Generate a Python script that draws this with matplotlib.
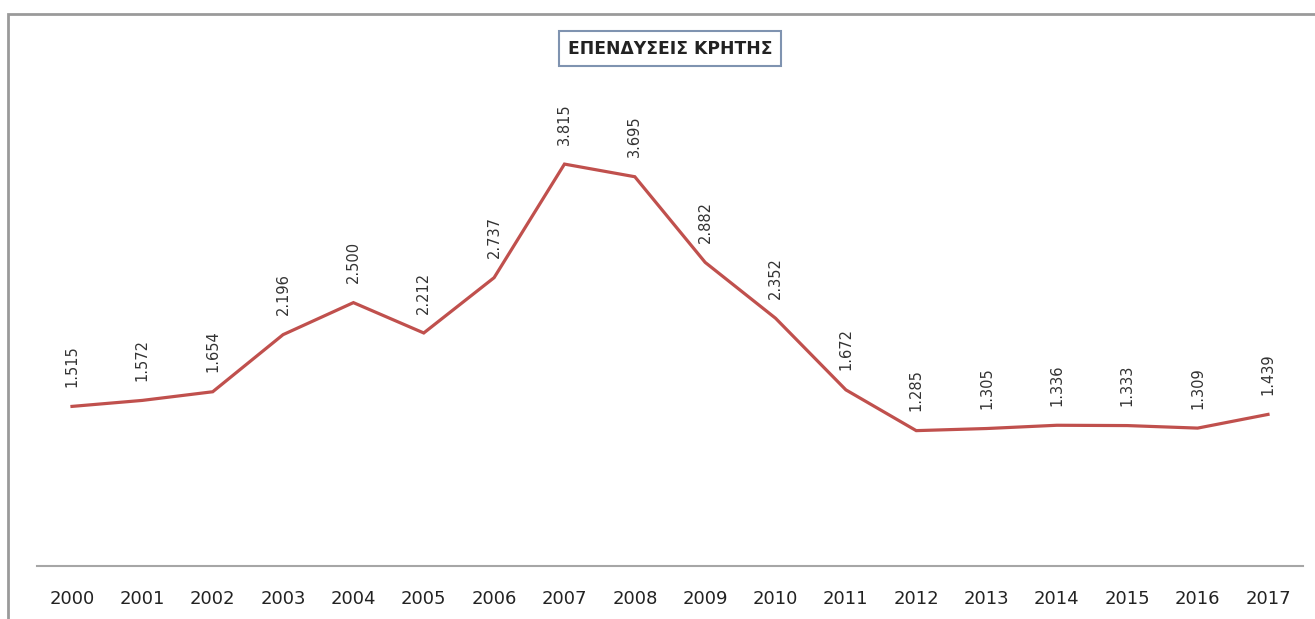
import matplotlib
matplotlib.use("Agg")
import matplotlib.pyplot as plt
from matplotlib.patches import Rectangle

# data
years = ["2000", "2001", "2002", "2003", "2004", "2005", "2006", "2007", "2008",
         "2009", "2010", "2011", "2012", "2013", "2014", "2015", "2016", "2017"]
values = [1.515, 1.572, 1.654, 2.196, 2.500, 2.212, 2.737, 3.815, 3.695,
          2.882, 2.352, 1.672, 1.285, 1.305, 1.336, 1.333, 1.309, 1.439]
value_labels = ["1.515", "1.572", "1.654", "2.196", "2.500", "2.212", "2.737", "3.815", "3.695",
                "2.882", "2.352", "1.672", "1.285", "1.305", "1.336", "1.333", "1.309", "1.439"]
title = "ΕΠΕΝΔΥΣΕΙΣ ΚΡΗΤΗΣ"

fig = plt.figure(figsize=(13.15, 6.19), dpi=100)
ax = fig.add_axes([0.028, 0.0856, 0.963, 0.851])

x = list(range(len(years)))
ax.plot(x, values, color="#c0504d", linewidth=2.3, solid_joinstyle="miter")

for xi, v, lab in zip(x, values, value_labels):
    ax.annotate(lab, (xi, v), xytext=(0, 14), textcoords="offset points",
                rotation=90, ha="center", va="bottom", fontsize=10.5, color="#333333")

ax.set_xlim(-0.5, len(years) - 0.5)
ax.set_ylim(0, 5)
ax.set_xticks(x)
ax.set_xticklabels(years, fontsize=13, color="#222222")
ax.tick_params(axis="x", length=0, pad=17)
ax.set_yticks([])
for side in ["top", "left", "right"]:
    ax.spines[side].set_visible(False)
ax.spines["bottom"].set_color("#a6a6a6")
ax.spines["bottom"].set_linewidth(1.5)

ax.text(0.5, 0.982, title, transform=ax.transAxes, ha="center", va="center",
        fontsize=12.3, fontweight="bold", color="#222222",
        bbox=dict(boxstyle="square,pad=0.5", facecolor="white",
                  edgecolor="#7f93b0", linewidth=1.5))

# outer chart border
fig.patches.append(Rectangle((8 / 1315, -0.1), 1.2, (619 - 14) / 619 + 0.1,
                             transform=fig.transFigure, fill=False,
                             edgecolor="#9a9a9a", linewidth=2))

fig.savefig("out.png", dpi=100, facecolor="white")
